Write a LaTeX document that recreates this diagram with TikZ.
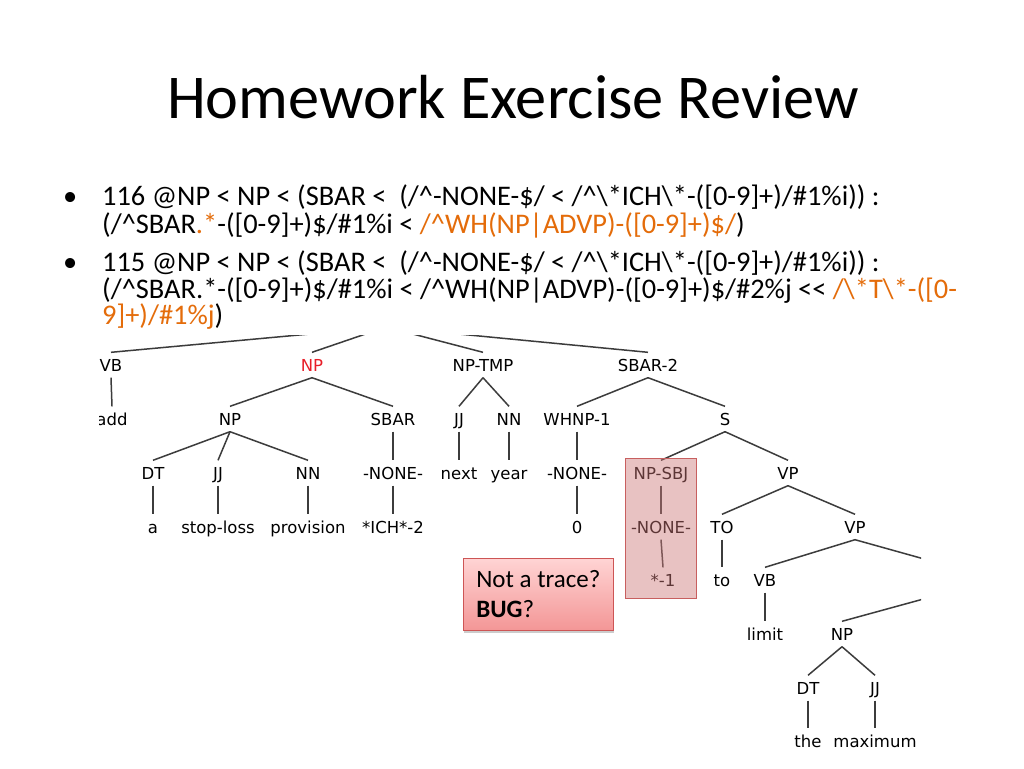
\documentclass[tikz,border=0pt]{standalone}
\usepackage{fontspec}
\setmainfont{Carlito}
\newfontfamily\treefont{DejaVu Sans}
\usetikzlibrary{shadows}
\definecolor{orng}{RGB}{228,108,10}
\definecolor{treeline}{RGB}{60,60,60}
\definecolor{npred}{RGB}{232,30,40}
\definecolor{boxfill}{RGB}{205,120,120}
\definecolor{boxedge}{RGB}{200,95,95}
\definecolor{calltop}{RGB}{255,212,212}
\definecolor{callbot}{RGB}{243,150,150}
\definecolor{calledge}{RGB}{205,85,85}
\begin{document}
\begin{tikzpicture}[x=1pt,y=-1pt,
  tl/.style={font=\treefont\fontsize{16.5}{16.5}\selectfont, text height=12pt, text depth=0pt, inner xsep=1pt, inner ysep=6.5pt},
  br/.style={draw=treeline, line width=1.5pt},
  bul/.style={anchor=base west, inner sep=0pt, font=\fontsize{28.4}{28.4}\selectfont},
  callout/.style={draw=calledge, line width=0.8pt, top color=calltop, bottom color=callbot,
    minimum width=150pt, minimum height=72pt, align=left, inner xsep=12pt,
    font=\fontsize{25}{30}\selectfont, anchor=north west,
    drop shadow={shadow xshift=1pt, shadow yshift=-3pt, opacity=0.4}},
  hilite/.style={draw=boxedge, line width=0.8pt, fill=boxfill, fill opacity=0.45,
    minimum width=71pt, minimum height=140pt, inner sep=0pt}
]
\useasboundingbox (0,0) rectangle (1024,768);
\fill[white] (0,0) rectangle (1024,768);

% title
\node[anchor=base, font=\fontsize{62.3}{62.3}\selectfont, inner sep=0pt] (title) at (513,118) {Homework Exercise Review};

% bullets
\node[bul] (d1) at (63,205) {•};
\node[bul] (l1) at (102,205) {116 @NP < NP < (SBAR <\ \ (/\textasciicircum-NONE-\$/ < /\textasciicircum\textbackslash*ICH\textbackslash*-([0-9]+)/\#1\%i)) :};
\node[bul] (l2) at (102,233) {(/\textasciicircum SBAR\textcolor{orng}{.*}-([0-9]+)\$/\#1\%i < \textcolor{orng}{/\textasciicircum WH(NP|ADVP)-([0-9]+)\$/})};
\node[bul] (d2) at (63,271) {•};
\node[bul] (l3) at (102,271) {115 @NP < NP < (SBAR <\ \ (/\textasciicircum-NONE-\$/ < /\textasciicircum\textbackslash*ICH\textbackslash*-([0-9]+)/\#1\%i)) :};
\node[bul] (l4) at (102,298) {(/\textasciicircum SBAR.*-([0-9]+)\$/\#1\%i < /\textasciicircum WH(NP|ADVP)-([0-9]+)\$/\#2\%j <{}< \textcolor{orng}{/\textbackslash*T\textbackslash*-([0-}};
\node[bul] (l5) at (102,324) {\textcolor{orng}{9]+)/\#1\%j})};

% tree
\begin{scope}
\clip (99,335) rectangle (921,768);
\coordinate (root) at (386,327);
\coordinate (offA) at (960,569);
\coordinate (offB) at (960,589);
% row 1
\node[tl] (VB) at (111,365) {VB};
\node[tl, text=npred] (NPr) at (312,365) {NP};
\node[tl] (NPTMP) at (483,365) {NP-TMP};
\node[tl] (SBARtwo) at (648,365) {SBAR-2};
% row 2
\node[tl] (add) at (112,419) {add};
\node[tl] (NPb) at (230,419) {NP};
\node[tl] (SBAR) at (393,419) {SBAR};
\node[tl] (JJa) at (459,419) {JJ};
\node[tl] (NNa) at (509,419) {NN};
\node[tl] (WHNP) at (577,419) {WHNP-1};
\node[tl] (S) at (725,419) {S};
% row 3
\node[tl] (DTa) at (153,473) {DT};
\node[tl] (JJb) at (218,473) {JJ};
\node[tl] (NNb) at (308,473) {NN};
\node[tl] (NONEa) at (393,473) {-NONE-};
\node[tl] (next) at (459,473) {next};
\node[tl] (year) at (509,473) {year};
\node[tl] (NONEb) at (577,473) {-NONE-};
\node[tl] (NPSBJ) at (661,473) {NP-SBJ};
\node[tl] (VPa) at (788,473) {VP};
% row 4
\node[tl] (wa) at (153,527) {a};
\node[tl] (stoploss) at (218,527) {stop-loss};
\node[tl] (provision) at (308,527) {provision};
\node[tl] (ICH) at (393,527) {*ICH*-2};
\node[tl] (zero) at (577,527) {0};
\node[tl] (NONEc) at (661,527) {-NONE-};
\node[tl] (TO) at (722,527) {TO};
\node[tl] (VPb) at (855,527) {VP};
% row 5
\node[tl] (star) at (663,580) {*-1};
\node[tl] (to) at (722,580) {to};
\node[tl] (VBb) at (765,580) {VB};
% row 6
\node[tl] (limit) at (765,634) {limit};
\node[tl] (NPc) at (842,634) {NP};
% row 7
\node[tl] (DTb) at (808,688) {DT};
\node[tl] (JJc) at (875,688) {JJ};
% row 8
\node[tl] (the) at (808,741) {the};
\node[tl] (maximum) at (875,741) {maximum};
% branches
\foreach \c in {VB,NPr,NPTMP,SBARtwo} \draw[br] (root) -- (\c.north);
\draw[br] (VB.south) -- (add.north);
\draw[br] (NPr.south) -- (NPb.north);
\draw[br] (NPr.south) -- (SBAR.north);
\foreach \c in {DTa,JJb,NNb} \draw[br] (NPb.south) -- (\c.north);
\draw[br] (DTa.south) -- (wa.north);
\draw[br] (JJb.south) -- (stoploss.north);
\draw[br] (NNb.south) -- (provision.north);
\draw[br] (SBAR.south) -- (NONEa.north);
\draw[br] (NONEa.south) -- (ICH.north);
\draw[br] (NPTMP.south) -- (JJa.north);
\draw[br] (NPTMP.south) -- (NNa.north);
\draw[br] (JJa.south) -- (next.north);
\draw[br] (NNa.south) -- (year.north);
\draw[br] (SBARtwo.south) -- (WHNP.north);
\draw[br] (SBARtwo.south) -- (S.north);
\draw[br] (WHNP.south) -- (NONEb.north);
\draw[br] (NONEb.south) -- (zero.north);
\draw[br] (S.south) -- (NPSBJ.north);
\draw[br] (S.south) -- (VPa.north);
\draw[br] (NPSBJ.south) -- (NONEc.north);
\draw[br] (NONEc.south) -- (star.north);
\draw[br] (VPa.south) -- (TO.north);
\draw[br] (VPa.south) -- (VPb.north);
\draw[br] (TO.south) -- (to.north);
\draw[br] (VPb.south) -- (VBb.north);
\draw[br] (VPb.south) -- (offA);
\draw[br] (VBb.south) -- (limit.north);
\draw[br] (offB) -- (NPc.north);
\draw[br] (NPc.south) -- (DTb.north);
\draw[br] (NPc.south) -- (JJc.north);
\draw[br] (DTb.south) -- (the.north);
\draw[br] (JJc.south) -- (maximum.north);
\end{scope}

% highlight box
\node[hilite] (hl) at (660.5,528) {};

% callout
\node[callout] (bug) at (463,558) {Not a trace?\\\textbf{BUG}?};
\end{tikzpicture}
\end{document}
